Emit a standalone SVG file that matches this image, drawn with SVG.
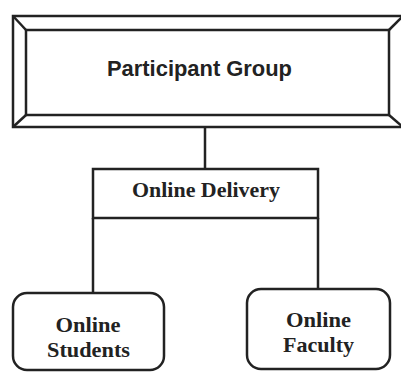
<svg xmlns="http://www.w3.org/2000/svg" width="401" height="373" viewBox="0 0 401 373">
  <style>
    .edge { fill: none; stroke: #222; stroke-width: 2.5; }
    .box { fill: #fff; stroke: #222; stroke-width: 2.5; }
    .sans { font-family: "Liberation Sans", Arial, sans-serif; font-weight: bold; fill: #222; }
    .serif { font-family: "Liberation Serif", "Times New Roman", serif; font-weight: bold; fill: #222; }
  </style>
  <rect width="401" height="373" fill="#fff"/>

  <g id="connectors">
    <line class="edge" x1="205" y1="127" x2="205" y2="169"/>
    <line class="edge" x1="93" y1="218" x2="93" y2="293"/>
    <line class="edge" x1="318" y1="218" x2="318" y2="289"/>
  </g>

  <g id="participant-group">
    <rect class="box" x="13" y="16" width="390" height="111"/>
    <rect class="box" x="26" y="30" width="363" height="85"/>
    <line class="edge" x1="13" y1="16" x2="26" y2="30"/>
    <line class="edge" x1="13" y1="127" x2="26" y2="115"/>
    <line class="edge" x1="403" y1="16" x2="389" y2="30"/>
    <line class="edge" x1="403" y1="127" x2="389" y2="115"/>
    <text class="sans" x="199.5" y="76" font-size="22" text-anchor="middle" textLength="185" lengthAdjust="spacingAndGlyphs">Participant Group</text>
  </g>

  <g id="online-delivery">
    <rect class="box" x="93" y="169" width="225" height="49"/>
    <text class="serif" x="206" y="197" font-size="21" text-anchor="middle" textLength="148" lengthAdjust="spacingAndGlyphs">Online Delivery</text>
  </g>

  <g id="online-students">
    <rect class="box" x="13" y="293" width="151" height="77" rx="14"/>
    <text class="serif" x="88" y="332" font-size="21" text-anchor="middle" textLength="65" lengthAdjust="spacingAndGlyphs">Online</text>
    <text class="serif" x="88.5" y="357" font-size="21" text-anchor="middle" textLength="83" lengthAdjust="spacingAndGlyphs">Students</text>
  </g>

  <g id="online-faculty">
    <rect class="box" x="247" y="289" width="143" height="80" rx="14"/>
    <text class="serif" x="318.5" y="327" font-size="21" text-anchor="middle" textLength="65" lengthAdjust="spacingAndGlyphs">Online</text>
    <text class="serif" x="318.5" y="352" font-size="21" text-anchor="middle" textLength="71" lengthAdjust="spacingAndGlyphs">Faculty</text>
  </g>
</svg>
